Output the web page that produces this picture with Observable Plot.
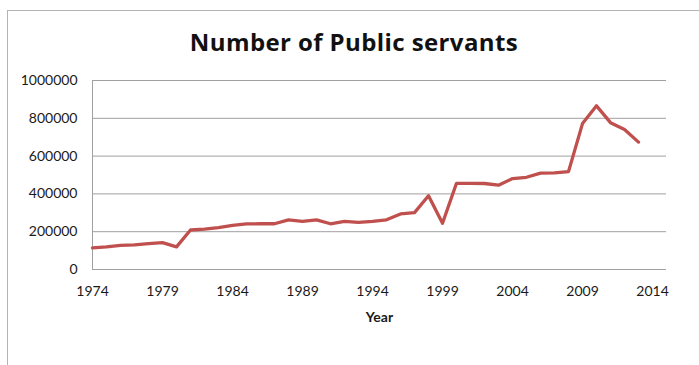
<!DOCTYPE html>
<html><head><meta charset="utf-8">
<script src="https://cdn.jsdelivr.net/npm/d3@7"></script>
<script src="https://cdn.jsdelivr.net/npm/@observablehq/plot@0.6"></script>
<style>
body{margin:0;background:#fff;}
#wrap{position:relative;width:699px;height:365px;overflow:hidden;font-family:Lato,"Open Sans",sans-serif;}
#frame{position:absolute;left:7px;top:10px;width:800px;height:500px;border-left:1px solid #b4b4b4;border-top:1px solid #b4b4b4;pointer-events:none;}
#title{height:70px;box-sizing:border-box;padding-top:30px;padding-left:9px;text-align:center;font-family:"Open Sans",Lato,sans-serif;font-weight:bold;font-size:24px;line-height:24px;color:#111;letter-spacing:0.4px;}
</style></head>
<body>
<div id="wrap"><div id="frame"></div><div id="title">Number of Public servants</div><div id="chart"></div></div>
<script>
const years = [1974,1975,1976,1977,1978,1979,1980,1981,1982,1983,1984,1985,1986,1987,1988,1989,1990,1991,1992,1993,1994,1995,1996,1997,1998,1999,2000,2001,2002,2003,2004,2005,2006,2007,2008,2009,2010,2011,2012,2013];
const servants = [114000,120000,128000,130000,137000,142000,120000,209000,214000,221000,233000,241000,242000,242000,263000,255000,263000,242000,255000,249000,255000,263000,294000,301000,390000,245000,456000,456000,455000,446000,481000,488000,510000,511000,518000,772000,866000,777000,741000,674000];
const xTicks = [1974,1979,1984,1989,1994,1999,2004,2009,2014];
const yTicks = [0,200000,400000,600000,800000,1000000];
const xLabel = "Year";

const data = years.map((y,i)=>({year:y, value:servants[i]}));

const chart = Plot.plot({
  width: 699,
  height: 295,
  marginTop: 10,
  marginBottom: 96,
  marginLeft: 92,
  marginRight: 33,
  style: {fontFamily: "Lato, 'Open Sans', sans-serif", fontSize: "14px", color: "#1a1a1a", background: "transparent"},
  x: {domain: [1974, 2015]},
  y: {domain: [0, 1000000]},
  marks: [
    Plot.gridY(yTicks, {stroke: "#a0a0a0", strokeOpacity: 1, strokeWidth: 1}),
    Plot.ruleX([1974], {stroke: "#a0a0a0", strokeWidth: 1}),
    Plot.axisY(yTicks, {tickSize: 0, tickPadding: 15, tickFormat: d => String(d), label: null}),
    Plot.axisX(xTicks, {tickSize: 0, tickPadding: 17, tickFormat: d => String(d), label: null}),
    Plot.text([xLabel], {frameAnchor: "bottom", dy: 48, fontWeight: "bold", fontSize: 14, lineAnchor: "middle"}),
    Plot.line(data, {x: "year", y: "value", stroke: "#C0504D", strokeWidth: 3.3, strokeLinejoin: "round"})
  ]
});
document.getElementById("chart").appendChild(chart);
</script>
</body></html>
